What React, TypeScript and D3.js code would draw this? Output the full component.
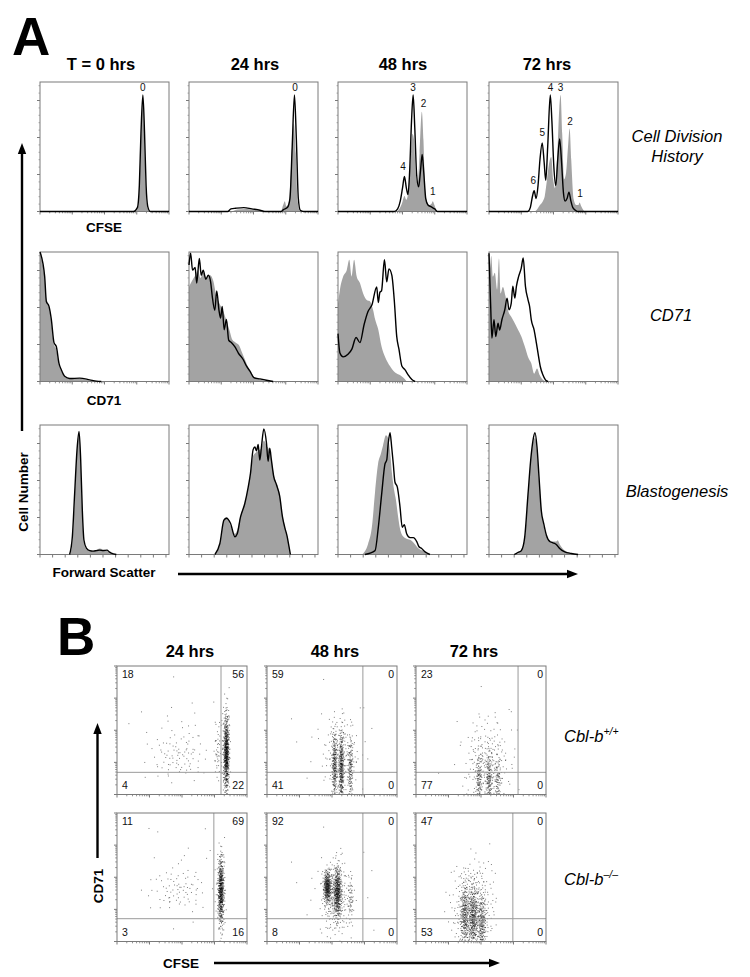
import React from 'react';
import * as d3 from 'd3';

type Pt = [number, number];
type Cl = [number, number, number, number, number]; // cx, cy, sx, sy, n (decades)

const FONT = '"Liberation Sans", Arial, Helvetica, sans-serif';

// ---------------- Panel A text ----------------
const A_TITLES = ['T = 0 hrs', '24 hrs', '48 hrs', '72 hrs'];
const A_AXIS_LABELS = ['CFSE', 'CD71', 'Forward Scatter'];

// ---------------- Panel A data: CFSE (x = log decades 0-4, y = % of max) ----------------
const CFSE_KO_0: Pt[] = [[0,0],[2.9,0],[3.02,3],[3.08,20],[3.13,60],[3.19,90],[3.24,62],[3.29,20],[3.34,4],[3.42,0],[4,0]];
const CFSE_WT_0: Pt[] = [[0,0],[2.95,0],[3.05,4],[3.1,30],[3.15,70],[3.19,84],[3.23,60],[3.28,18],[3.33,3],[3.4,0],[4,0]];
const CFSE_KO_24: Pt[] = [[0,0],[1.2,0],[1.3,2],[1.45,2.5],[1.7,3],[1.95,2],[2.2,1],[2.35,0],[2.85,0],[2.93,1.5],[3.05,3],[3.13,10],[3.2,50],[3.27,90],[3.33,55],[3.39,10],[3.45,1],[3.55,0],[4,0]];
const CFSE_WT_24: Pt[] = [[0,0],[1.3,0],[1.5,1.5],[1.8,2],[2.1,1],[2.3,0],[2.85,0],[2.92,5],[2.97,8],[3.02,4],[3.1,8],[3.18,40],[3.25,68],[3.31,45],[3.37,8],[3.45,0],[4,0]];
const CFSE_KO_48: Pt[] = [[0,0],[1.75,0],[1.85,2],[1.93,8],[2.0,18],[2.06,27],[2.12,18],[2.17,13],[2.22,30],[2.28,70],[2.33,90],[2.38,65],[2.44,28],[2.5,19],[2.56,32],[2.61,44],[2.66,30],[2.72,10],[2.79,5],[2.86,4],[2.93,3],[3.0,2],[3.08,0],[4,0]];
const CFSE_WT_48: Pt[] = [[0,0],[1.8,0],[1.9,2],[1.98,6],[2.06,12],[2.12,9],[2.18,15],[2.25,40],[2.31,60],[2.36,55],[2.41,30],[2.47,22],[2.53,45],[2.6,77],[2.65,55],[2.7,18],[2.76,8],[2.83,5],[2.9,6],[2.94,8],[2.99,5],[3.05,1],[3.12,0],[4,0]];
const CFSE_KO_72: Pt[] = [[0,0],[1.2,0],[1.28,3],[1.35,12],[1.4,16],[1.46,10],[1.52,20],[1.58,40],[1.65,53],[1.71,38],[1.76,24],[1.82,50],[1.9,90],[1.95,70],[2.01,35],[2.07,20],[2.13,40],[2.19,56],[2.25,38],[2.31,14],[2.36,8],[2.42,10],[2.48,15],[2.54,8],[2.6,3],[2.68,1],[2.75,0],[4,0]];
const CFSE_WT_72: Pt[] = [[0,0],[1.4,0],[1.5,2],[1.58,5],[1.67,8],[1.73,12],[1.8,25],[1.87,38],[1.93,42],[1.99,25],[2.05,18],[2.12,45],[2.18,80],[2.22,90],[2.27,60],[2.33,25],[2.39,30],[2.45,50],[2.5,64],[2.55,40],[2.62,10],[2.7,5],[2.77,5],[2.81,7],[2.86,4],[2.93,1],[2.98,0],[4,0]];

// peak (division) labels: [label, x decades, y %]
const PEAKS_0: [string, number, number][] = [['0', 3.19, 93]];
const PEAKS_24: [string, number, number][] = [['0', 3.29, 93]];
const PEAKS_48: [string, number, number][] = [['4', 2.02, 32], ['3', 2.33, 93], ['2', 2.65, 81], ['1', 2.94, 12.6]];
const PEAKS_72: [string, number, number][] = [['6', 1.37, 21.5], ['5', 1.65, 58], ['4', 1.91, 93], ['3', 2.22, 93], ['2', 2.51, 66.7], ['1', 2.82, 11]];

// ---------------- Panel A data: CD71 ----------------
const CD71_KO_0: Pt[] = [[0,100],[0.145,81],[0.196,62],[0.279,58],[0.351,48],[0.434,30],[0.506,27],[0.589,14],[0.661,9],[0.765,4],[0.92,2.3],[1.23,2.6],[1.54,1.3],[1.75,0.3],[1.9,0]];
const CD71_WT_0: Pt[] = [[0,98],[0.14,80],[0.2,63],[0.28,57],[0.35,46],[0.43,29],[0.5,25],[0.59,13],[0.66,8],[0.77,3.5],[0.92,2],[1.23,2.2],[1.5,1],[1.75,0]];
const CD71_KO_24: Pt[] = [[0,90],[0.05,99],[0.11,86],[0.19,88],[0.24,76],[0.32,95],[0.38,82],[0.44,86],[0.52,79],[0.6,82],[0.67,77],[0.72,66],[0.8,55],[0.86,70],[0.93,55],[0.98,49],[1.03,58],[1.09,40],[1.16,48],[1.23,32],[1.32,30],[1.42,27],[1.53,22],[1.68,17],[1.78,12],[1.89,8],[2.01,3],[2.2,2],[2.4,1],[2.61,0]];
const CD71_WT_24: Pt[] = [[0,73],[0.1,78],[0.2,82],[0.28,86],[0.35,80],[0.45,84],[0.55,80],[0.65,82],[0.75,78],[0.85,66],[0.95,60],[1.05,55],[1.15,48],[1.25,40],[1.35,32],[1.45,30],[1.55,28],[1.65,22],[1.75,16],[1.85,10],[1.95,6],[2.05,3],[2.2,1.5],[2.4,0]];
const CD71_KO_48: Pt[] = [[0,37],[0.06,22],[0.16,19],[0.31,21],[0.43,25],[0.56,34],[0.68,30],[0.81,44],[0.93,54],[1.05,59],[1.2,73],[1.25,61],[1.3,69],[1.35,70],[1.44,94],[1.51,77],[1.58,87],[1.67,82],[1.75,61],[1.82,35],[1.89,25],[1.98,12],[2.08,9],[2.18,5],[2.29,1.5],[2.39,0]];
const CD71_WT_48: Pt[] = [[0,60],[0.06,71],[0.16,81],[0.27,86],[0.35,94],[0.42,81],[0.5,94],[0.58,81],[0.68,76],[0.78,68],[0.89,63],[0.99,62],[1.09,55],[1.15,48],[1.25,40],[1.35,27],[1.46,19],[1.61,12],[1.77,7],[1.92,5],[2.02,3],[2.13,0]];
const CD71_KO_72: Pt[] = [[0,99],[0.05,60],[0.09,33.5],[0.155,47.7],[0.21,34.8],[0.28,45],[0.33,39.7],[0.4,47.7],[0.49,55.4],[0.56,64.4],[0.62,55.4],[0.69,60.6],[0.74,73.5],[0.8,64.4],[0.85,73.5],[0.92,81.2],[1.0,87.6],[1.06,95.4],[1.13,73.5],[1.21,63.1],[1.26,57.9],[1.31,47.7],[1.4,39.7],[1.47,29.6],[1.52,21.9],[1.59,11.6],[1.67,5.2],[1.75,1.3],[1.83,0]];
const CD71_WT_72: Pt[] = [[0,80],[0.02,84],[0.07,97],[0.12,81],[0.18,84],[0.25,71],[0.31,95],[0.36,68],[0.43,73],[0.51,66],[0.59,55],[0.69,50],[0.8,45],[0.9,40],[1.0,35],[1.11,27],[1.21,19],[1.31,14],[1.4,6],[1.49,10],[1.57,5],[1.67,1.3],[1.75,0]];

// ---------------- Panel A data: Forward scatter (x = channel 0-1024) ----------------
const FSC_KO_0: Pt[] = [[235,0],[257,14],[275,47],[294,81],[310,95],[323,73],[336,34],[349,11],[368,5],[395,3],[421,2.6],[450,3],[474,3.4],[500,3],[532,3.4],[550,2],[566,1],[606,0]];
const FSC_WT_0: Pt[] = [[240,0],[260,12],[278,48],[296,82],[310,92],[323,70],[336,30],[349,9],[368,4],[421,2.5],[474,4.6],[495,4],[520,3.5],[545,2],[580,0]];
const FSC_KO_24: Pt[] = [[206,0],[245,8.5],[277,26.5],[298,28],[330,24],[364,13.7],[383,16],[409,29],[443,39.4],[470,52],[488,62.6],[509,81],[523,83],[536,80],[549,85],[562,73],[575,83],[594,97],[615,86],[628,72],[641,82],[654,73],[673,60],[694,54],[720,45],[742,29],[760,21],[779,14],[794,6],[805,0]];
const FSC_WT_24: Pt[] = [[210,0],[245,8],[277,27],[298,29],[330,22],[364,16],[383,19],[409,30],[443,40],[470,52],[488,62],[509,76],[523,78],[549,80],[575,82],[594,88],[615,84],[641,80],[654,74],[673,62],[694,55],[720,46],[742,30],[760,22],[779,14],[794,6],[805,0]];
const FSC_KO_48: Pt[] = [[214,0],[294,3],[320,21],[347,47],[373,70],[387,73],[399,86],[413,94],[426,83],[439,70],[452,56],[471,52],[492,37],[510,21],[526,23],[545,16],[572,13],[598,13],[625,10],[643,6],[664,4.6],[691,2],[730,0]];
const FSC_WT_48: Pt[] = [[190,0],[238,8],[270,22],[294,48],[318,70],[341,78],[357,84],[381,92],[397,90],[413,80],[429,62],[445,50],[460,42],[476,30],[492,20],[516,14],[548,12],[579,11],[611,8],[635,5],[667,3],[699,1],[730,0]];
const FSC_KO_72: Pt[] = [[200,0],[225,1.3],[240,2],[257,3],[283,13],[310,47],[331,73],[349,88],[365,94],[381,83],[397,60],[415,34],[434,24],[455,15],[482,10],[508,9],[534,7.7],[561,4.6],[601,2],[654,0.8],[707,0]];
const FSC_WT_72: Pt[] = [[215,0],[240,1.5],[283,12],[310,45],[331,72],[349,86],[365,90],[381,80],[397,58],[415,35],[434,22],[455,14],[482,11],[508,10],[534,10],[545,11],[561,8],[601,3],[654,1],[707,0]];

const ROW_KO = [
  [CFSE_KO_0, CFSE_KO_24, CFSE_KO_48, CFSE_KO_72],
  [CD71_KO_0, CD71_KO_24, CD71_KO_48, CD71_KO_72],
  [FSC_KO_0, FSC_KO_24, FSC_KO_48, FSC_KO_72],
];
const ROW_WT = [
  [CFSE_WT_0, CFSE_WT_24, CFSE_WT_48, CFSE_WT_72],
  [CD71_WT_0, CD71_WT_24, CD71_WT_48, CD71_WT_72],
  [FSC_WT_0, FSC_WT_24, FSC_WT_48, FSC_WT_72],
];
const CFSE_PEAKS = [PEAKS_0, PEAKS_24, PEAKS_48, PEAKS_72];

// ---------------- Panel B ----------------
const B_TITLES = ['24 hrs', '48 hrs', '72 hrs'];
// quadrant percentages [UL, UR, LL, LR]
const B_QUAD_WT = [[18, 56, 4, 22], [59, 0, 41, 0], [23, 0, 77, 0]];
const B_QUAD_KO = [[11, 69, 3, 16], [92, 0, 8, 0], [47, 0, 53, 0]];
// quadrant gate positions [CFSE decade, CD71 decade]
const B_GATE_WT: Pt[] = [[3.2, 0.69], [2.95, 0.69], [3.14, 0.69]];
const B_GATE_KO: Pt[] = [[2.98, 0.71], [2.95, 0.71], [2.98, 0.71]];
// cell populations: [cx, cy, sx, sy, n] in decades
const B_WT_24: Cl[] = [[3.37, 1.25, 0.035, 0.5, 300], [3.36, 1.3, 0.05, 0.7, 340], [1.9, 1.2, 0.45, 0.4, 80], [3.1, 1.3, 0.06, 0.5, 40], [2.0, 1.9, 0.8, 0.8, 30]];
const B_WT_48: Cl[] = [[2.08, 0.9, 0.04, 0.55, 250], [2.29, 0.8, 0.04, 0.6, 340], [2.57, 0.8, 0.04, 0.5, 140], [2.3, 1.2, 0.3, 0.6, 130], [2.0, 1.6, 0.8, 0.9, 25]];
const B_WT_72: Cl[] = [[1.94, 0.45, 0.05, 0.45, 120], [2.25, 0.45, 0.05, 0.45, 150], [2.52, 0.45, 0.05, 0.4, 80], [2.2, 0.9, 0.35, 0.7, 200], [2.2, 1.6, 0.6, 0.8, 25]];
const B_KO_24: Cl[] = [[3.2, 1.6, 0.04, 0.5, 320], [3.2, 1.5, 0.06, 0.6, 230], [1.9, 1.6, 0.4, 0.35, 65], [2.0, 2.0, 0.8, 0.8, 25]];
const B_KO_48: Cl[] = [[1.86, 1.7, 0.06, 0.25, 330], [2.17, 1.55, 0.06, 0.4, 400], [2.1, 1.3, 0.2, 0.55, 230], [2.57, 1.3, 0.05, 0.4, 60], [2.0, 1.8, 0.8, 0.8, 25]];
const B_KO_72: Cl[] = [[1.5, 0.8, 0.06, 0.5, 230], [1.76, 0.7, 0.07, 0.5, 280], [2.03, 0.55, 0.06, 0.45, 180], [1.75, 0.9, 0.3, 0.6, 380], [1.8, 2.0, 0.35, 0.4, 40]];
const B_POPS = [[B_WT_24, B_WT_48, B_WT_72], [B_KO_24, B_KO_48, B_KO_72]];

// ---------------- layout ----------------
const A_BOX_X = [40, 189, 338, 489];
const A_BOX_Y = [82, 252, 425];
const A_W = 129, A_H = 129.5;
const B_BOX_X = [117, 267, 416];
const B_BOX_Y = [666, 813];
const B_W = 130, B_H = 128.5;

const LOG_MAJOR = [0, 1, 2, 3, 4];
const LOG_MINOR = d3.range(0, 4).flatMap(d => d3.range(2, 10).map(k => d + Math.log10(k)));

function halton(i: number, b: number) {
  let f = 1, r = 0;
  while (i > 0) { f /= b; r += f * (i % b); i = Math.floor(i / b); }
  return r;
}

function spread(pops: Cl[]): Pt[] {
  const out: Pt[] = [];
  pops.forEach((c, ci) => {
    const [cx, cy, sx, sy, n] = c;
    for (let j = 0; j < n; j++) {
      const i = 7 + ci * 613 + j;
      const u1 = Math.max(1e-6, halton(i, 2));
      const u2 = halton(i, 3);
      const r = Math.sqrt(-2 * Math.log(u1));
      const px = cx + sx * r * Math.cos(2 * Math.PI * u2);
      const py = cy + sy * r * Math.sin(2 * Math.PI * u2);
      if (px > 0.01 && px < 3.99 && py > 0.01 && py < 3.99) out.push([px, py]);
    }
  });
  return out;
}

const AXIS_GRAY = '#7a7a7a';

function Histogram({ x0, y0, row, col }: { x0: number; y0: number; row: number; col: number }) {
  const lin = row === 2;
  const xs = d3.scaleLinear().domain(lin ? [0, 1024] : [0, 4]).range([x0, x0 + A_W]);
  const ys = d3.scaleLinear().domain([0, 100]).range([y0 + A_H, y0]);
  const area = d3.area<Pt>().x(d => xs(d[0])).y0(ys(0)).y1(d => ys(d[1])).curve(d3.curveMonotoneX);
  const line = d3.line<Pt>().x(d => xs(d[0])).y(d => ys(d[1])).curve(d3.curveMonotoneX);
  const yMajStep = 100 / 3.5;
  const yMaj = d3.range(0, 100.1, yMajStep);
  const yMin = d3.range(0, 100, yMajStep / 5).filter(v => !yMaj.some(m => Math.abs(m - v) < 0.01));
  const xMaj = lin ? d3.range(0, 1001, 100) : LOG_MAJOR;
  const xMin = lin ? [] : LOG_MINOR;
  const bottom = y0 + A_H;
  return (
    <g>
      <path d={area(ROW_WT[row][col]) || ''} fill="#a3a3a3" stroke="none" />
      <rect x={x0} y={y0} width={A_W} height={A_H} fill="none" stroke={AXIS_GRAY} strokeWidth={1} />
      {xMaj.map((v, i) => <line key={'xM' + i} x1={xs(v)} x2={xs(v)} y1={bottom} y2={bottom + 3} stroke={AXIS_GRAY} strokeWidth={1} />)}
      {xMin.map((v, i) => <line key={'xm' + i} x1={xs(v)} x2={xs(v)} y1={bottom} y2={bottom + 1.8} stroke={AXIS_GRAY} strokeWidth={0.8} />)}
      {yMaj.map((v, i) => <line key={'yM' + i} x1={x0 - 3} x2={x0} y1={ys(v)} y2={ys(v)} stroke={AXIS_GRAY} strokeWidth={1} />)}
      {yMin.map((v, i) => <line key={'ym' + i} x1={x0 - 1.5} x2={x0} y1={ys(v)} y2={ys(v)} stroke={AXIS_GRAY} strokeWidth={0.6} />)}
      <path d={line(ROW_KO[row][col]) || ''} fill="none" stroke="#000" strokeWidth={1.4} strokeLinejoin="round" />
      {row === 0 && CFSE_PEAKS[col].map(([t, px, py], i) => (
        <text key={'p' + i} x={xs(px)} y={ys(py)} fontSize={10} fontFamily={FONT} textAnchor="middle" fill="#111">{t}</text>
      ))}
    </g>
  );
}

function Scatter({ x0, y0, pops, gate, quad }: { x0: number; y0: number; pops: Cl[]; gate: Pt; quad: number[] }) {
  const xs = d3.scaleLinear().domain([0, 4]).range([x0, x0 + B_W]);
  const ys = d3.scaleLinear().domain([0, 4]).range([y0 + B_H, y0]);
  const pts = spread(pops);
  const bottom = y0 + B_H;
  return (
    <g>
      {pts.map((p, i) => <rect key={i} x={xs(p[0]) - 0.5} y={ys(p[1]) - 0.5} width={1} height={1} fill="#000" fillOpacity={0.5} />)}
      <line x1={xs(gate[0])} x2={xs(gate[0])} y1={y0} y2={bottom} stroke="#9a9a9a" strokeWidth={1} />
      <line x1={x0} x2={x0 + B_W} y1={ys(gate[1])} y2={ys(gate[1])} stroke="#9a9a9a" strokeWidth={1} />
      <rect x={x0} y={y0} width={B_W} height={B_H} fill="none" stroke={AXIS_GRAY} strokeWidth={1} />
      {LOG_MAJOR.map((v, i) => <line key={'xM' + i} x1={xs(v)} x2={xs(v)} y1={bottom} y2={bottom + 3} stroke={AXIS_GRAY} />)}
      {LOG_MINOR.map((v, i) => <line key={'xm' + i} x1={xs(v)} x2={xs(v)} y1={bottom} y2={bottom + 1.8} stroke={AXIS_GRAY} strokeWidth={0.8} />)}
      {LOG_MAJOR.map((v, i) => <line key={'yM' + i} x1={x0 - 3} x2={x0} y1={ys(v)} y2={ys(v)} stroke={AXIS_GRAY} />)}
      {LOG_MINOR.map((v, i) => <line key={'ym' + i} x1={x0 - 1.8} x2={x0} y1={ys(v)} y2={ys(v)} stroke={AXIS_GRAY} strokeWidth={0.8} />)}
      <text x={x0 + 5} y={y0 + 12} fontSize={10.5} fontFamily={FONT} fill="#111">{quad[0]}</text>
      <text x={x0 + B_W - 3} y={y0 + 12} fontSize={10.5} fontFamily={FONT} fill="#111" textAnchor="end">{quad[1]}</text>
      <text x={x0 + 5} y={bottom - 6} fontSize={10.5} fontFamily={FONT} fill="#111">{quad[2]}</text>
      <text x={x0 + B_W - 3} y={bottom - 6} fontSize={10.5} fontFamily={FONT} fill="#111" textAnchor="end">{quad[3]}</text>
    </g>
  );
}

function ArrowV({ x, yBottom, yTip }: { x: number; yBottom: number; yTip: number }) {
  return (
    <g>
      <line x1={x} x2={x} y1={yBottom} y2={yTip + 9} stroke="#000" strokeWidth={2.4} />
      <path d={`M${x},${yTip} L${x - 4.2},${yTip + 11} L${x + 4.2},${yTip + 11} Z`} fill="#000" />
    </g>
  );
}
function ArrowH({ y, xLeft, xTip }: { y: number; xLeft: number; xTip: number }) {
  return (
    <g>
      <line x1={xLeft} x2={xTip - 9} y1={y} y2={y} stroke="#000" strokeWidth={2.4} />
      <path d={`M${xTip},${y} L${xTip - 11},${y - 4.2} L${xTip - 11},${y + 4.2} Z`} fill="#000" />
    </g>
  );
}

export default function App() {
  const titleX = [101, 255, 403, 547];
  const bTitleX = [190, 335, 474];
  return (
    <svg width={750} height={977} viewBox="0 0 750 977" style={{ position: 'absolute', left: 0, top: 0, background: '#fff' }} fontFamily={FONT}>
      <rect x={0} y={0} width={750} height={977} fill="#fff" />
      {/* Panel A */}
      <text x={12} y={55} fontSize={53} fontWeight="bold">A</text>
      {A_TITLES.map((t, i) => (
        <text key={t} x={titleX[i]} y={70} fontSize={16.5} fontWeight="bold" textAnchor="middle">{t}</text>
      ))}
      {[0, 1, 2].map(r => [0, 1, 2, 3].map(c => (
        <Histogram key={r + '-' + c} x0={A_BOX_X[c]} y0={A_BOX_Y[r]} row={r} col={c} />
      )))}
      <text x={104} y={232} fontSize={13.5} fontWeight="bold" textAnchor="middle">{A_AXIS_LABELS[0]}</text>
      <text x={104} y={405} fontSize={13.5} fontWeight="bold" textAnchor="middle">{A_AXIS_LABELS[1]}</text>
      <text x={104} y={577} fontSize={13.5} fontWeight="bold" textAnchor="middle">{A_AXIS_LABELS[2]}</text>
      <ArrowV x={22} yBottom={431} yTip={143} />
      <text transform="translate(28,492) rotate(-90)" fontSize={13.5} fontWeight="bold" textAnchor="middle">Cell Number</text>
      <ArrowH y={574} xLeft={178} xTip={578} />
      <text x={677} y={142} fontSize={16.5} fontStyle="italic" textAnchor="middle">Cell Division</text>
      <text x={677} y={162} fontSize={16.5} fontStyle="italic" textAnchor="middle">History</text>
      <text x={671} y={321} fontSize={16.5} fontStyle="italic" textAnchor="middle">CD71</text>
      <text x={677} y={497} fontSize={16.5} fontStyle="italic" textAnchor="middle">Blastogenesis</text>

      {/* Panel B */}
      <text x={57} y={655} fontSize={53} fontWeight="bold">B</text>
      {B_TITLES.map((t, i) => (
        <text key={t} x={bTitleX[i]} y={657} fontSize={16.5} fontWeight="bold" textAnchor="middle">{t}</text>
      ))}
      {[0, 1].map(r => [0, 1, 2].map(c => (
        <Scatter key={'s' + r + c} x0={B_BOX_X[c]} y0={B_BOX_Y[r]} pops={B_POPS[r][c]}
          gate={r === 0 ? B_GATE_WT[c] : B_GATE_KO[c]} quad={r === 0 ? B_QUAD_WT[c] : B_QUAD_KO[c]} />
      )))}
      <text x={564} y={742} fontSize={16.5} fontStyle="italic">Cbl-b<tspan fontSize={10.5} dy={-7}>+/+</tspan></text>
      <text x={564} y={885} fontSize={16.5} fontStyle="italic">Cbl-b<tspan fontSize={10.5} dy={-7}>–/–</tspan></text>
      <ArrowV x={97.5} yBottom={858} yTip={723} />
      <text transform="translate(103,886) rotate(-90)" fontSize={13.5} fontWeight="bold" textAnchor="middle">CD71</text>
      <text x={181} y={968} fontSize={13.5} fontWeight="bold" textAnchor="middle">CFSE</text>
      <ArrowH y={963} xLeft={214} xTip={500} />
    </svg>
  );
}
